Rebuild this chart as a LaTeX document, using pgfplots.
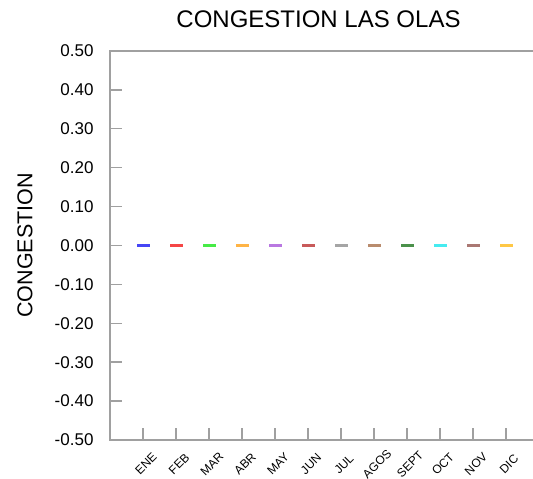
\documentclass[border=0pt]{standalone}
\usepackage{pgfplots}
\pgfplotsset{compat=1.18}
\usepackage{fontspec}
\setmainfont{Liberation Sans}

\definecolor{cEne}{HTML}{4646F5}
\definecolor{cFeb}{HTML}{F54646}
\definecolor{cMar}{HTML}{46EB46}
\definecolor{cAbr}{HTML}{FFB446}
\definecolor{cMay}{HTML}{B978E1}
\definecolor{cJun}{HTML}{C85A5A}
\definecolor{cJul}{HTML}{A5A5A5}
\definecolor{cAgo}{HTML}{B98C6E}
\definecolor{cSep}{HTML}{4B914B}
\definecolor{cOct}{HTML}{46EBF0}
\definecolor{cNov}{HTML}{AA7873}
\definecolor{cDic}{HTML}{FFC846}
\definecolor{axgray}{HTML}{A0A0A0}

% sizes for the tick labels
\newcommand\xlab{\fontsize{12}{14}\selectfont}
\newcommand\ylab{\fontsize{17}{19}\selectfont}

\begin{document}
\begin{tikzpicture}
\useasboundingbox (0,0) rectangle (533pt,479pt);
\begin{axis}[
  at={(110pt,39pt)}, anchor=south west,
  scale only axis,
  width=429pt, height=389pt,
  xmin=0, xmax=13,
  ymin=-0.5, ymax=0.5,
  axis line style={draw=axgray, line width=1.5pt},
  tick style={draw=axgray, line width=1.4pt},
  major tick length=12pt,
  tick align=inside,
  xtick pos=bottom, ytick pos=left,
  xtick={1,...,12},
  xticklabels={\xlab ENE,\xlab FEB,\xlab MAR,\xlab ABR,\xlab MAY,\xlab JUN,\xlab JUL,\xlab AGOS,\xlab SEPT,\xlab OCT,\xlab NOV,\xlab DIC},
  x tick label style={anchor=center, xshift=3pt, yshift=-24pt, rotate=45},
  ytick={-0.5,-0.4,...,0.5},
  yticklabel={\ylab\pgfmathprintnumber[assume math mode=true,fixed,fixed zerofill,precision=2]{\tick}},
  y tick label style={anchor=east, xshift=-13pt},
  ylabel={CONGESTION},
  ylabel style={font=\fontsize{21.5}{24}\selectfont, at={(axis description cs:-0.198,0.5)}, anchor=center},
  title={CONGESTION LAS OLAS},
  title style={font=\fontsize{24}{27}\selectfont, at={(axis description cs:0.486,1)}, anchor=base, yshift=17pt},
  clip=false,
]
\addplot[cEne, only marks, mark=-, mark size=6.5pt, mark options={line width=3pt}] coordinates {(1,0)};
\addplot[cFeb, only marks, mark=-, mark size=6.5pt, mark options={line width=3pt}] coordinates {(2,0)};
\addplot[cMar, only marks, mark=-, mark size=6.5pt, mark options={line width=3pt}] coordinates {(3,0)};
\addplot[cAbr, only marks, mark=-, mark size=6.5pt, mark options={line width=3pt}] coordinates {(4,0)};
\addplot[cMay, only marks, mark=-, mark size=6.5pt, mark options={line width=3pt}] coordinates {(5,0)};
\addplot[cJun, only marks, mark=-, mark size=6.5pt, mark options={line width=3pt}] coordinates {(6,0)};
\addplot[cJul, only marks, mark=-, mark size=6.5pt, mark options={line width=3pt}] coordinates {(7,0)};
\addplot[cAgo, only marks, mark=-, mark size=6.5pt, mark options={line width=3pt}] coordinates {(8,0)};
\addplot[cSep, only marks, mark=-, mark size=6.5pt, mark options={line width=3pt}] coordinates {(9,0)};
\addplot[cOct, only marks, mark=-, mark size=6.5pt, mark options={line width=3pt}] coordinates {(10,0)};
\addplot[cNov, only marks, mark=-, mark size=6.5pt, mark options={line width=3pt}] coordinates {(11,0)};
\addplot[cDic, only marks, mark=-, mark size=6.5pt, mark options={line width=3pt}] coordinates {(12,0)};
\end{axis}
\end{tikzpicture}
\end{document}
